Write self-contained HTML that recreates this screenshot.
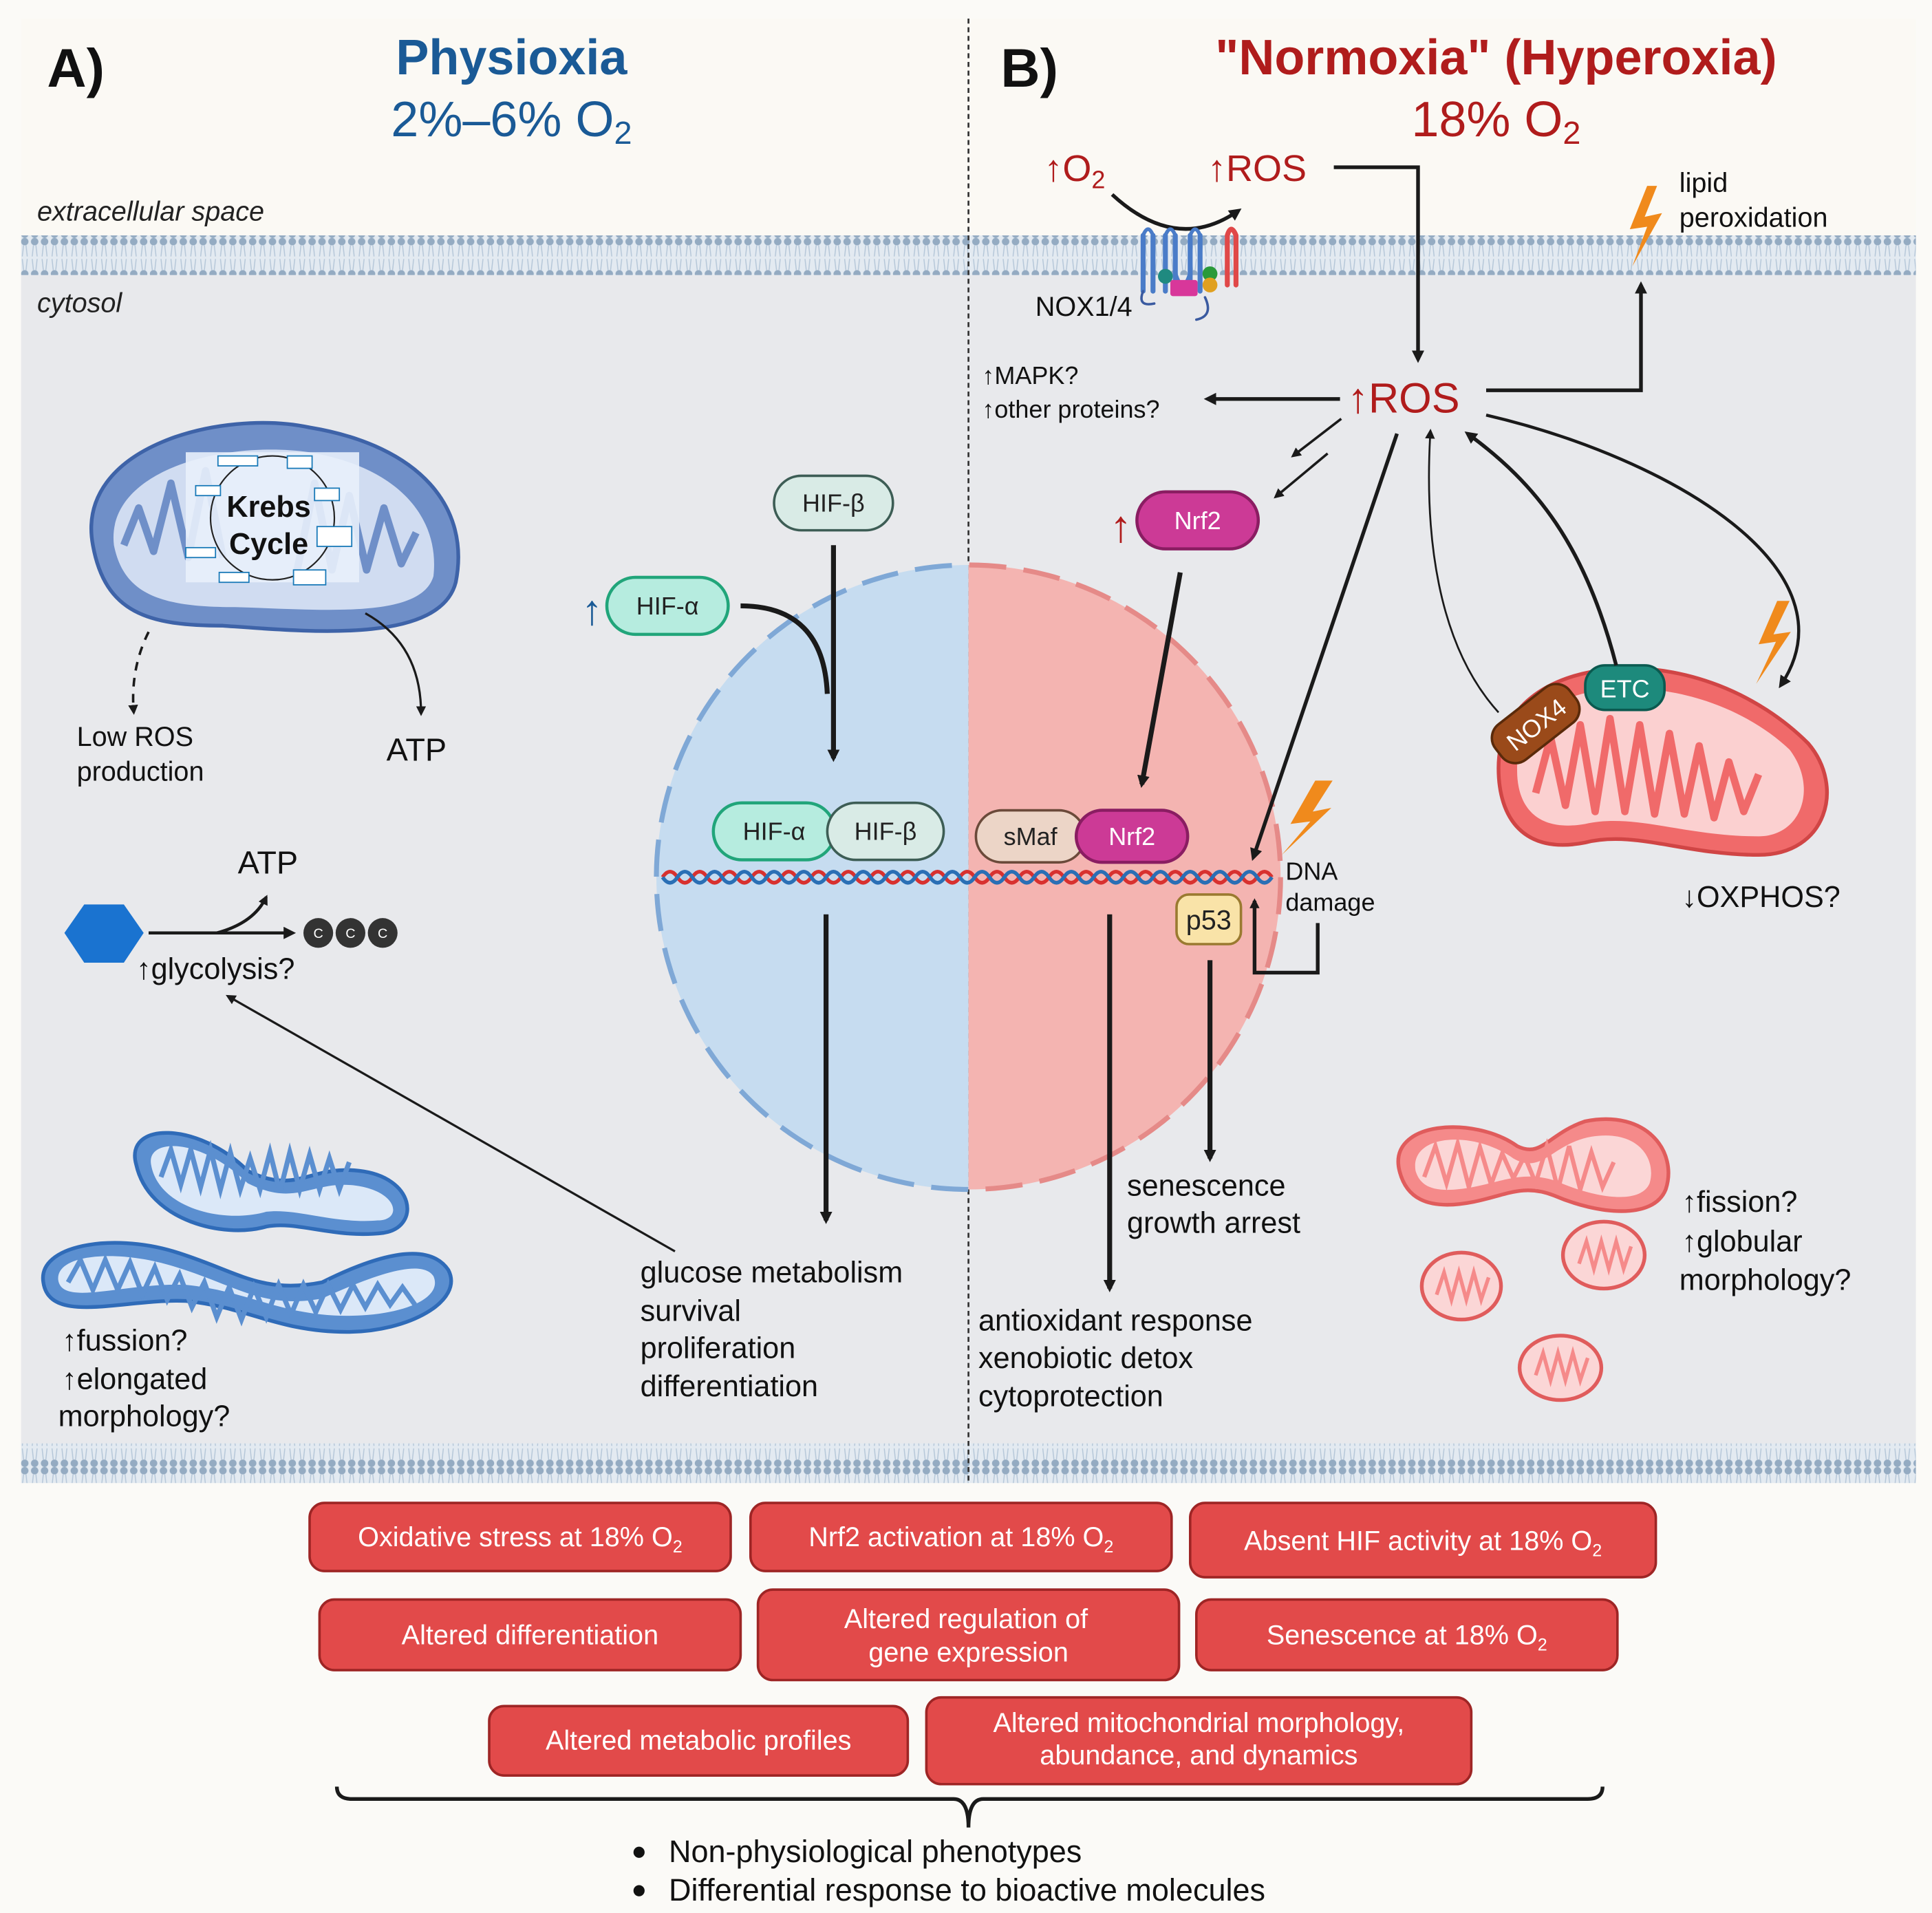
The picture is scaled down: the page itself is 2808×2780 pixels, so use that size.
<!DOCTYPE html>
<html><head><meta charset="utf-8"><style>
html,body{margin:0;padding:0;background:#fbfaf7}
svg{display:block}
text{font-family:"Liberation Sans",sans-serif}
</style></head><body>
<svg width="2808" height="2780" viewBox="0 0 1560 1544" preserveAspectRatio="none" xmlns="http://www.w3.org/2000/svg">
<defs>
<pattern id="mem" x="0" y="0" width="8" height="32" patternUnits="userSpaceOnUse">
<rect width="8" height="32" fill="#e3eaf1"/>
<circle cx="4" cy="3" r="3" fill="#94abc2"/>
<circle cx="4" cy="29" r="3" fill="#94abc2"/>
<path d="M3 6 L2 15 M5 6 L6 15 M3 26 L2 17 M5 26 L6 17" stroke="#b4c6d8" stroke-width="0.8"/>
</pattern>
<marker id="ah" markerWidth="10" markerHeight="10" refX="7" refY="5" orient="auto" markerUnits="userSpaceOnUse"><path d="M0 0 L10 5 L0 10 Z" fill="#1a1a1a"/></marker>
<marker id="ahs" markerWidth="8" markerHeight="8" refX="6" refY="4" orient="auto" markerUnits="userSpaceOnUse"><path d="M0 0 L8 4 L0 8 Z" fill="#1a1a1a"/></marker>
<clipPath id="nucL"><rect x="500" y="440" width="282" height="540"/></clipPath>
<clipPath id="nucR"><rect x="782" y="440" width="300" height="540"/></clipPath>
</defs>
<rect width="1560" height="1544" fill="#fbfaf7"/>
<rect x="17" y="15" width="1530" height="176" fill="#fbf9f4"/>
<rect x="17" y="222" width="1530" height="945" fill="#e8e9ec"/>
<rect x="17" y="190" width="1530" height="32" fill="url(#mem)"/>
<rect x="17" y="1165" width="1530" height="32" fill="url(#mem)"/>
<line x1="782" y1="15" x2="782" y2="1197" stroke="#333" stroke-width="1.5" stroke-dasharray="4 3"/>

<!-- headers -->
<text x="38" y="70" font-size="44" font-weight="bold" fill="#111">A)</text>
<text x="808" y="70" font-size="44" font-weight="bold" fill="#111">B)</text>
<text x="413" y="60" font-size="40" font-weight="bold" fill="#1a5a96" text-anchor="middle">Physioxia</text>
<text x="413" y="110" font-size="40" fill="#1a5a96" text-anchor="middle">2%–6% O<tspan font-size="26" dy="6">2</tspan></text>
<text x="1208" y="60" font-size="40" font-weight="bold" fill="#b01c1c" text-anchor="middle">"Normoxia" (Hyperoxia)</text>
<text x="1208" y="110" font-size="40" fill="#b01c1c" text-anchor="middle">18% O<tspan font-size="26" dy="6">2</tspan></text>
<text x="30" y="178" font-size="22" font-style="italic" fill="#222">extracellular space</text>
<text x="30" y="252" font-size="22" font-style="italic" fill="#222">cytosol</text>

<!-- nucleus -->
<circle cx="782" cy="708" r="252" fill="#c6dcf0" clip-path="url(#nucL)"/>
<circle cx="782" cy="708" r="252" fill="#f4b4b1" clip-path="url(#nucR)"/>
<circle cx="782" cy="708" r="252" fill="none" stroke="#7fa8d6" stroke-width="4" stroke-dasharray="30 14" clip-path="url(#nucL)"/>
<circle cx="782" cy="708" r="252" fill="none" stroke="#e58a88" stroke-width="4" stroke-dasharray="30 14" clip-path="url(#nucR)"/>
<!-- DNA -->
<path d="M535 708 q6 -9 12 0 t12 0 t12 0 t12 0 t12 0 t12 0 t12 0 t12 0 t12 0 t12 0 t12 0 t12 0 t12 0 t12 0 t12 0 t12 0 t12 0 t12 0 t12 0 t12 0 t12 0 t12 0 t12 0 t12 0 t12 0 t12 0 t12 0 t12 0 t12 0 t12 0 t12 0 t12 0 t12 0 t12 0 t12 0 t12 0 t12 0 t12 0 t12 0 t12 0 t12 0" fill="none" stroke="#d8312f" stroke-width="3"/>
<path d="M535 708 q6 9 12 0 t12 0 t12 0 t12 0 t12 0 t12 0 t12 0 t12 0 t12 0 t12 0 t12 0 t12 0 t12 0 t12 0 t12 0 t12 0 t12 0 t12 0 t12 0 t12 0 t12 0 t12 0 t12 0 t12 0 t12 0 t12 0 t12 0 t12 0 t12 0 t12 0 t12 0 t12 0 t12 0 t12 0 t12 0 t12 0 t12 0 t12 0 t12 0 t12 0 t12 0" fill="none" stroke="#2a6fb5" stroke-width="3"/>

<!-- HIF -->
<rect x="625" y="384" width="96" height="44" rx="22" fill="#d9ebe6" stroke="#3d5d55" stroke-width="2"/>
<text x="673" y="413" font-size="20" text-anchor="middle" fill="#222">HIF-β</text>
<rect x="490" y="466" width="98" height="46" rx="23" fill="#b6ecdf" stroke="#21a57a" stroke-width="2.5"/>
<text x="539" y="496" font-size="20" text-anchor="middle" fill="#222">HIF-α</text>
<text x="478" y="504" font-size="34" fill="#1a5a96" text-anchor="middle">↑</text>
<rect x="576" y="648" width="98" height="46" rx="23" fill="#b6ecdf" stroke="#21a57a" stroke-width="2.5"/>
<text x="625" y="678" font-size="20" text-anchor="middle" fill="#222">HIF-α</text>
<rect x="668" y="648" width="94" height="46" rx="23" fill="#d9ebe6" stroke="#3d5d55" stroke-width="2"/>
<text x="715" y="678" font-size="20" text-anchor="middle" fill="#222">HIF-β</text>
<path d="M598 489 Q665 489 668 560" fill="none" stroke="#1a1a1a" stroke-width="4"/>
<line x1="673" y1="440" x2="673" y2="612" stroke="#1a1a1a" stroke-width="4" marker-end="url(#ah)"/>
<line x1="667" y1="738" x2="667" y2="985" stroke="#1a1a1a" stroke-width="4" marker-end="url(#ah)"/>
<text font-size="24" fill="#111"><tspan x="517" y="1035">glucose metabolism</tspan><tspan x="517" y="1066">survival</tspan><tspan x="517" y="1096">proliferation</tspan><tspan x="517" y="1127">differentiation</tspan></text>
<line x1="545" y1="1010" x2="184" y2="804" stroke="#1a1a1a" stroke-width="1.8" marker-end="url(#ahs)"/>

<!-- left mito Krebs -->
<path d="M75 440 C60 360 180 330 250 345 C340 360 380 410 368 470 C355 520 250 510 180 505 C120 505 85 495 75 440 Z" fill="#6f8fc8" stroke="#3e63a8" stroke-width="3"/>
<path d="M92 440 C85 380 180 355 250 365 C325 378 355 420 350 465 C340 500 260 492 190 490 C130 490 100 480 92 440 Z" fill="#d0dcf1"/>
<path d="M100 440 l12 -30 l12 35 l14 -55 l14 60 l14 -70 l14 70 M240 460 l14 -70 l14 70 l14 -60 l14 60 l14 -50 l14 45 l12 -25" fill="none" stroke="#6f8fc8" stroke-width="6" stroke-linejoin="round"/>
<rect x="150" y="365" width="140" height="105" fill="#e8f0fb" opacity="0.9"/>
<circle cx="220" cy="418" r="50" fill="none" stroke="#222" stroke-width="1.2"/>
<rect x="176" y="368" width="32" height="8" fill="#fff" stroke="#1a7ab8"/><rect x="232" y="368" width="20" height="10" fill="#fff" stroke="#1a7ab8"/>
<rect x="254" y="394" width="20" height="10" fill="#fff" stroke="#1a7ab8"/><rect x="256" y="425" width="28" height="16" fill="#fff" stroke="#1a7ab8"/>
<rect x="237" y="460" width="26" height="12" fill="#fff" stroke="#1a7ab8"/><rect x="177" y="462" width="24" height="8" fill="#fff" stroke="#1a7ab8"/>
<rect x="150" y="442" width="24" height="8" fill="#fff" stroke="#1a7ab8"/><rect x="158" y="392" width="20" height="8" fill="#fff" stroke="#1a7ab8"/>
<text x="217" y="417" font-size="24" font-weight="bold" text-anchor="middle" fill="#111">Krebs</text>
<text x="217" y="447" font-size="24" font-weight="bold" text-anchor="middle" fill="#111">Cycle</text>
<path d="M120 510 Q105 540 108 575" fill="none" stroke="#1a1a1a" stroke-width="2" stroke-dasharray="7 6" marker-end="url(#ahs)"/>
<path d="M295 495 Q340 520 340 576" fill="none" stroke="#1a1a1a" stroke-width="1.8" marker-end="url(#ahs)"/>
<text font-size="22" fill="#111"><tspan x="62" y="602">Low ROS</tspan><tspan x="62" y="630">production</tspan></text>
<text x="312" y="614" font-size="26" fill="#111">ATP</text>

<!-- glycolysis -->
<polygon points="68,730 100,730 116,753 100,777 68,777 52,753" fill="#1a73d0"/>
<line x1="120" y1="753" x2="236" y2="753" stroke="#1a1a1a" stroke-width="2.5" marker-end="url(#ah)"/>
<path d="M175 753 Q205 745 215 724" fill="none" stroke="#1a1a1a" stroke-width="2.5" marker-end="url(#ahs)"/>
<text x="192" y="705" font-size="26" fill="#111">ATP</text>
<circle cx="257" cy="753" r="12" fill="#333"/><circle cx="283" cy="753" r="12" fill="#333"/><circle cx="309" cy="753" r="12" fill="#333"/>
<text font-size="11" fill="#fff" text-anchor="middle"><tspan x="257" y="757">C</tspan><tspan x="283" y="757">C</tspan><tspan x="309" y="757">C</tspan></text>
<text x="110" y="790" font-size="24" fill="#111">↑glycolysis?</text>

<!-- blue mito shapes -->
<path d="M110 940 C100 905 160 905 200 945 C240 965 250 940 290 945 C335 950 340 990 310 995 C270 1000 240 985 215 990 C180 1000 120 985 110 940 Z" fill="#5b8fd0" stroke="#2f6bb8" stroke-width="3"/>
<path d="M122 940 C118 918 162 918 200 955 C240 975 252 952 288 957 C322 962 325 985 305 985 C270 988 240 975 215 978 C180 988 128 975 122 940 Z" fill="#dbe8f8"/>
<path d="M130 950 l8 -22 l8 28 l8 -28 l8 30 l8 -30 l8 32 l8 -30 l8 30 l8 -25 l8 25 l8 -30 l8 32 l8 -32 l8 30 l8 -28 l8 28 l8 -25 l8 25 l8 -22" fill="none" stroke="#5b8fd0" stroke-width="4"/>
<path d="M35 1035 C30 1005 90 995 140 1010 C190 1025 210 1045 260 1035 C300 1015 345 1000 362 1025 C375 1050 330 1075 280 1075 C225 1075 200 1055 150 1050 C100 1048 40 1070 35 1035 Z" fill="#5b8fd0" stroke="#2f6bb8" stroke-width="3"/>
<path d="M47 1033 C45 1012 95 1008 140 1022 C190 1037 212 1057 260 1048 C300 1030 340 1015 350 1030 C358 1048 325 1062 280 1062 C228 1062 200 1042 150 1037 C100 1035 50 1055 47 1033 Z" fill="#dbe8f8"/>
<path d="M55 1035 l10 -18 l10 24 l10 -24 l10 24 l10 -22 l10 26 l10 -22 l10 26 l10 -20 l10 26 l10 -20 l10 28 l10 -24 l10 26 l10 -26 l10 24 l10 -26 l10 24 l10 -24 l10 22 l10 -22 l10 20 l10 -20 l10 18 l10 -18 l10 16 l10 -14 l10 14" fill="none" stroke="#5b8fd0" stroke-width="4"/>
<text font-size="24" fill="#111"><tspan x="50" y="1090">↑fussion?</tspan><tspan x="50" y="1121">↑elongated</tspan><tspan x="47" y="1151">morphology?</tspan></text>

<!-- B side top -->
<text x="843" y="146" font-size="30" fill="#b01c1c">↑O<tspan font-size="20" dy="6">2</tspan></text>
<text x="975" y="146" font-size="30" fill="#b01c1c">↑ROS</text>
<path d="M898 157 Q950 205 1000 170" fill="none" stroke="#1a1a1a" stroke-width="3" marker-end="url(#ah)"/>
<!-- NOX protein -->
<g fill="none" stroke-linecap="round">
<path d="M923 235 V190 M931 235 V190 M941 235 V190 M949 235 V190 M961 235 V190 M969 235 V190" stroke="#4a7cc8" stroke-width="4"/>
<path d="M923 190 Q927 180 931 190 M941 190 Q945 180 949 190 M961 190 Q965 180 969 190 M949 220 Q955 240 961 220" stroke="#4a7cc8" stroke-width="3"/>
<path d="M991 230 V190 M998 230 V190 M991 190 Q994 180 998 190" stroke="#e04848" stroke-width="4"/>
<path d="M923 235 Q918 248 932 245 M973 240 Q980 255 966 258" stroke="#3a5aa0" stroke-width="2"/>
</g>
<circle cx="941" cy="223" r="6" fill="#1f8a80"/><rect x="945" y="226" width="22" height="13" rx="2" fill="#d8379a"/>
<circle cx="977" cy="221" r="6" fill="#2a9a3a"/><circle cx="977" cy="230" r="6" fill="#e0a020"/>
<text x="836" y="255" font-size="22" fill="#111">NOX1/4</text>
<!-- lipid peroxidation -->
<polygon points="1330,150 1316,185 1330,183 1318,215 1342,172 1328,175 1338,150" fill="#f08a1c"/>
<text font-size="22" fill="#111"><tspan x="1356" y="155">lipid</tspan><tspan x="1356" y="183">peroxidation</tspan></text>
<polyline points="1077,135 1145,135 1145,290" fill="none" stroke="#1a1a1a" stroke-width="3" marker-end="url(#ah)"/>
<polyline points="1200,315 1325,315 1325,230" fill="none" stroke="#1a1a1a" stroke-width="3" marker-end="url(#ah)"/>
<text x="1088" y="333" font-size="34" fill="#b01c1c">↑ROS</text>
<line x1="1082" y1="322" x2="975" y2="322" stroke="#1a1a1a" stroke-width="3" marker-end="url(#ah)"/>
<text font-size="20" fill="#111"><tspan x="793" y="310">↑MAPK?</tspan><tspan x="793" y="337">↑other proteins?</tspan></text>
<line x1="1083" y1="338" x2="1044" y2="368" stroke="#1a1a1a" stroke-width="2" marker-end="url(#ahs)"/>
<line x1="1072" y1="366" x2="1030" y2="401" stroke="#1a1a1a" stroke-width="2" marker-end="url(#ahs)"/>
<text x="896" y="437" font-size="36" fill="#b01c1c">↑</text>
<rect x="918" y="397" width="98" height="46" rx="23" fill="#cc3a96" stroke="#8a1d62" stroke-width="2.5"/>
<text x="967" y="427" font-size="20" text-anchor="middle" fill="#fff">Nrf2</text>
<line x1="953" y1="462" x2="922" y2="633" stroke="#1a1a1a" stroke-width="4" marker-end="url(#ah)"/>
<line x1="1128" y1="350" x2="1012" y2="692" stroke="#1a1a1a" stroke-width="3" marker-end="url(#ah)"/>
<rect x="788" y="654" width="88" height="42" rx="21" fill="#ecd5c7" stroke="#6b4a3a" stroke-width="2"/>
<text x="832" y="682" font-size="20" text-anchor="middle" fill="#222">sMaf</text>
<rect x="869" y="654" width="90" height="42" rx="21" fill="#cc3a96" stroke="#8a1d62" stroke-width="2.5"/>
<text x="914" y="682" font-size="20" text-anchor="middle" fill="#fff">Nrf2</text>
<polygon points="1062,630 1042,665 1058,663 1035,690 1075,652 1060,655 1076,630" fill="#f08a1c"/>
<text font-size="20" fill="#111"><tspan x="1038" y="710">DNA</tspan><tspan x="1038" y="735">damage</tspan></text>
<rect x="950" y="722" width="52" height="40" rx="10" fill="#f9e3a8" stroke="#9a7a30" stroke-width="2"/>
<text x="976" y="750" font-size="22" text-anchor="middle" fill="#222">p53</text>
<polyline points="1064,745 1064,785 1013,785 1013,727" fill="none" stroke="#1a1a1a" stroke-width="3" marker-end="url(#ahs)"/>
<line x1="977" y1="775" x2="977" y2="935" stroke="#1a1a1a" stroke-width="4" marker-end="url(#ah)"/>
<line x1="896" y1="738" x2="896" y2="1040" stroke="#1a1a1a" stroke-width="4" marker-end="url(#ah)"/>
<text font-size="24" fill="#111"><tspan x="910" y="965">senescence</tspan><tspan x="910" y="995">growth arrest</tspan></text>
<text font-size="24" fill="#111"><tspan x="790" y="1074">antioxidant response</tspan><tspan x="790" y="1104">xenobiotic detox</tspan><tspan x="790" y="1135">cytoprotection</tspan></text>

<!-- right red mito -->
<path d="M1210 620 C1210 570 1250 545 1300 540 C1360 535 1420 560 1460 600 C1490 635 1475 690 1420 690 C1360 690 1320 670 1280 680 C1230 690 1210 660 1210 620 Z" fill="#f06a6a" stroke="#d04545" stroke-width="3"/>
<path d="M1225 622 C1225 580 1258 560 1300 556 C1355 552 1410 572 1445 605 C1468 635 1455 675 1420 675 C1360 675 1320 656 1280 665 C1240 672 1225 650 1225 622 Z" fill="#fbd0d0"/>
<path d="M1240 640 l12 -45 l12 55 l12 -65 l12 70 l12 -75 l12 75 l12 -70 l12 72 l12 -65 l12 65 l12 -55 l12 58 l12 -45 l12 40 l12 -30" fill="none" stroke="#f06a6a" stroke-width="6" stroke-linejoin="round"/>
<g transform="translate(1240,584) rotate(-38)"><rect x="-38" y="-18" width="76" height="36" rx="14" fill="#9a4a1a" stroke="#5a2a0a" stroke-width="2"/><text x="0" y="8" font-size="20" text-anchor="middle" fill="#fff">NOX4</text></g>
<rect x="1280" y="537" width="64" height="36" rx="16" fill="#1d8a7c" stroke="#0b5a50" stroke-width="2"/>
<text x="1312" y="563" font-size="20" text-anchor="middle" fill="#fff">ETC</text>
<polygon points="1435,485 1420,520 1434,518 1418,552 1446,510 1432,512 1445,485" fill="#f08a1c"/>
<path d="M1210 575 C1160 520 1150 430 1155 348" fill="none" stroke="#1a1a1a" stroke-width="1.5" marker-end="url(#ahs)"/>
<path d="M1305 537 C1280 440 1240 390 1185 350" fill="none" stroke="#1a1a1a" stroke-width="3" marker-end="url(#ah)"/>
<path d="M1200 335 C1350 370 1500 460 1438 553" fill="none" stroke="#1a1a1a" stroke-width="2.5" marker-end="url(#ah)"/>
<text x="1358" y="732" font-size="24" fill="#111">↓OXPHOS?</text>
<!-- small red mitos -->
<path d="M1130 945 C1120 905 1190 900 1225 925 C1245 935 1250 915 1280 905 C1330 895 1355 930 1345 960 C1335 985 1290 980 1255 965 C1230 955 1215 965 1190 970 C1150 978 1135 965 1130 945 Z" fill="#f58a8a" stroke="#e05c5c" stroke-width="3"/>
<path d="M1143 945 C1138 915 1190 912 1222 935 C1245 948 1252 925 1282 918 C1322 910 1338 935 1332 955 C1325 972 1290 968 1256 953 C1230 945 1215 953 1190 958 C1158 964 1147 958 1143 945 Z" fill="#fbd6d6"/>
<path d="M1150 950 l9 -25 l9 30 l9 -32 l9 35 l9 -32 l9 30 l9 -25 l9 20 l9 -18 l9 22 l9 -30 l9 35 l9 -35 l9 35 l9 -30 l9 28 l9 -20" fill="none" stroke="#f58a8a" stroke-width="3.5"/>
<g fill="#fbd6d6" stroke="#e05c5c" stroke-width="3"><ellipse cx="1180" cy="1038" rx="32" ry="27"/><ellipse cx="1295" cy="1013" rx="33" ry="27"/><ellipse cx="1260" cy="1104" rx="33" ry="26"/></g>
<g fill="none" stroke="#f58a8a" stroke-width="3"><path d="M1160 1045 l6 -18 l6 22 l6 -22 l6 22 l6 -22 l6 22 l6 -18"/><path d="M1275 1020 l6 -18 l6 22 l6 -22 l6 22 l6 -22 l6 22 l6 -18"/><path d="M1240 1110 l6 -18 l6 22 l6 -22 l6 22 l6 -22 l6 22 l6 -18"/></g>
<text font-size="24" fill="#111"><tspan x="1358" y="978">↑fission?</tspan><tspan x="1358" y="1010">↑globular</tspan><tspan x="1356" y="1041">morphology?</tspan></text>

<!-- bottom boxes -->
<g fill="#e24a4a" stroke="#9e2525" stroke-width="2">
<rect x="250" y="1213" width="340" height="55" rx="12"/>
<rect x="606" y="1213" width="340" height="55" rx="12"/>
<rect x="961" y="1213" width="376" height="60" rx="12"/>
<rect x="258" y="1291" width="340" height="57" rx="12"/>
<rect x="612" y="1283" width="340" height="73" rx="12"/>
<rect x="966" y="1291" width="340" height="57" rx="12"/>
<rect x="395" y="1377" width="338" height="56" rx="12"/>
<rect x="748" y="1370" width="440" height="70" rx="12"/>
</g>
<g font-size="22" fill="#fff" text-anchor="middle">
<text x="420" y="1248">Oxidative stress at 18% O<tspan font-size="14" dy="5">2</tspan></text>
<text x="776" y="1248">Nrf2 activation at 18% O<tspan font-size="14" dy="5">2</tspan></text>
<text x="1149" y="1251">Absent HIF activity at 18% O<tspan font-size="14" dy="5">2</tspan></text>
<text x="428" y="1327">Altered differentiation</text>
<text x="780" y="1314">Altered regulation of</text><text x="782" y="1341">gene expression</text>
<text x="1136" y="1327">Senescence at 18% O<tspan font-size="14" dy="5">2</tspan></text>
<text x="564" y="1412">Altered metabolic profiles</text>
<text x="968" y="1398">Altered mitochondrial morphology,</text><text x="968" y="1424">abundance, and dynamics</text>
</g>
<path d="M272 1442 Q272 1452 284 1452 L770 1452 Q782 1452 782 1475 Q782 1452 794 1452 L1282 1452 Q1294 1452 1294 1442" fill="none" stroke="#1a1a1a" stroke-width="3"/>
<circle cx="516" cy="1495" r="4.5" fill="#111"/><circle cx="516" cy="1526" r="4.5" fill="#111"/>
<text font-size="25" fill="#111"><tspan x="540" y="1503">Non-physiological phenotypes</tspan><tspan x="540" y="1534">Differential response to bioactive molecules</tspan></text>
</svg>
</body></html>
